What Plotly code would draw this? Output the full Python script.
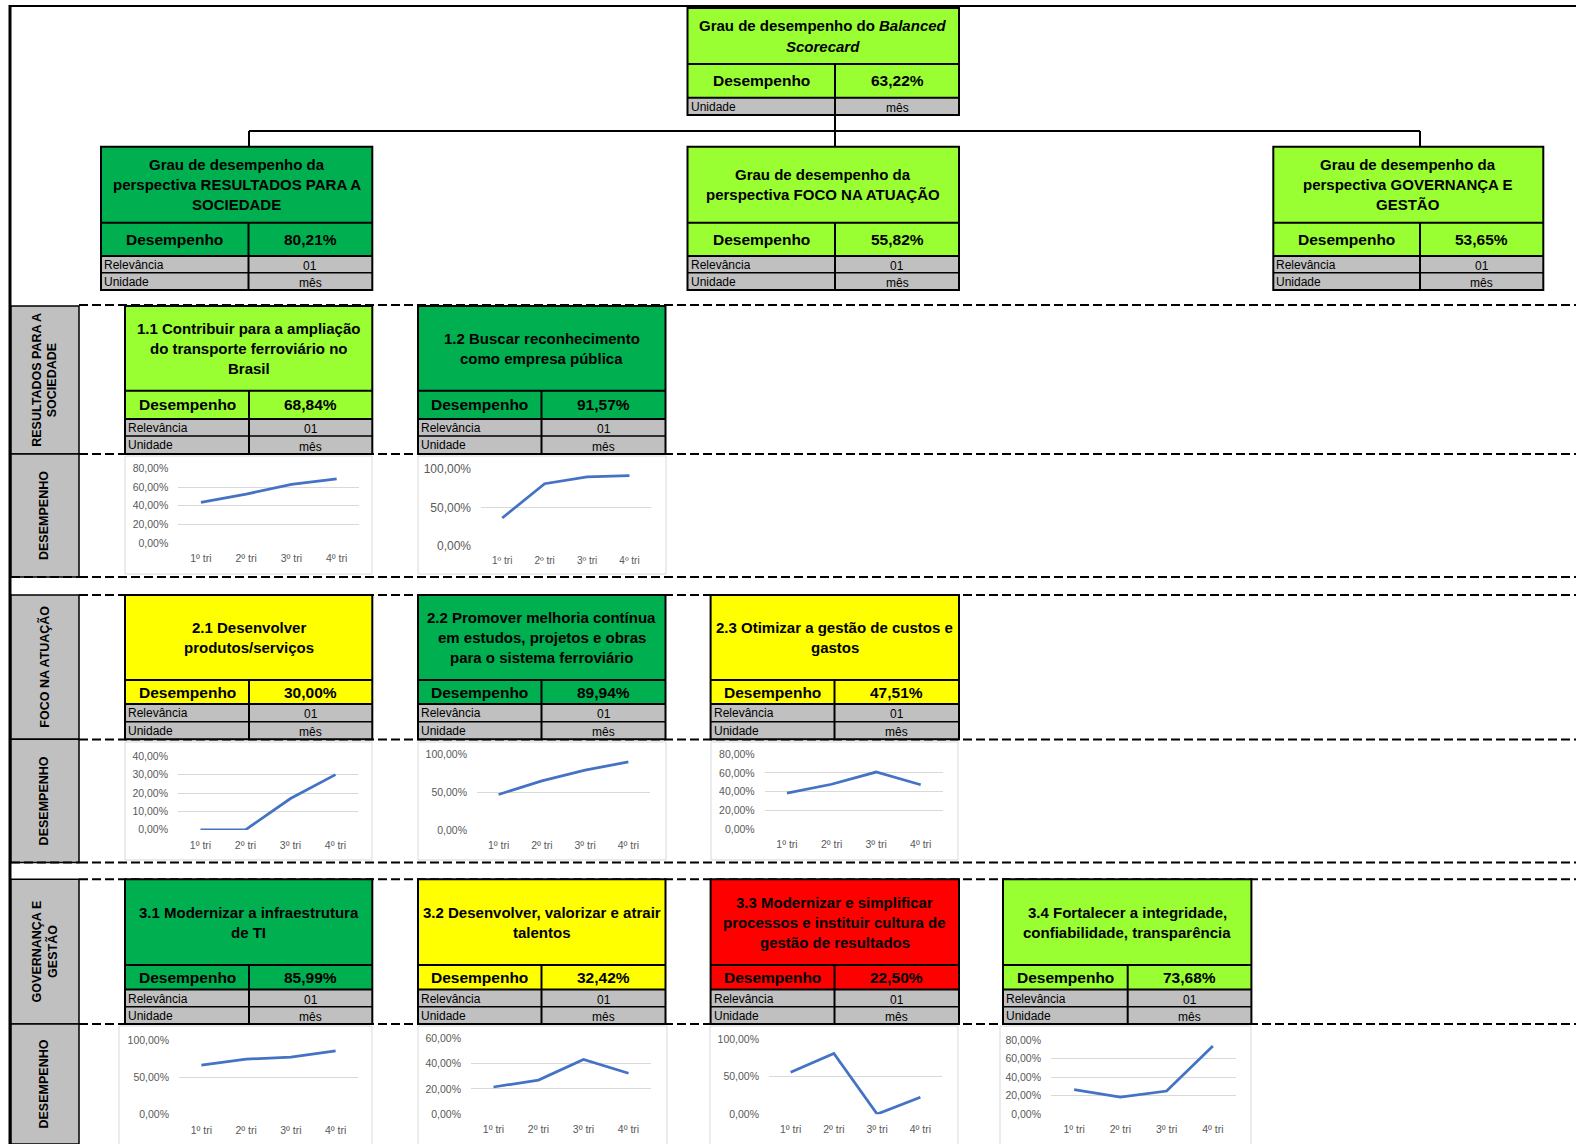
import plotly.graph_objects as go

W, H = 1576, 1144

# ---------------- data ----------------
quarters = ["1º tri", "2º tri", "3º tri", "4º tri"]

bsc_title = ["Grau de desempenho do <i>Balanced</i>", "<i>Scorecard</i>"]
bsc_value = "63,22%"

persp_titles = [
    ["Grau de desempenho da", "perspectiva RESULTADOS PARA A", "SOCIEDADE"],
    ["Grau de desempenho da", "perspectiva FOCO NA ATUAÇÃO"],
    ["Grau de desempenho da", "perspectiva GOVERNANÇA E", "GESTÃO"],
]
persp_values = ["80,21%", "55,82%", "53,65%"]

relevance_label = "Relevância"
unit_label = "Unidade"
relevance_value = "01"
unit_value = "mês"
perf_label = "Desempenho"

row_labels = [["RESULTADOS PARA A", "SOCIEDADE"], ["FOCO NA ATUAÇÃO"], ["GOVERNANÇA E", "GESTÃO"]]
chart_row_label = "DESEMPENHO"

obj_titles = [
    ["1.1 Contribuir para a ampliação", "do transporte ferroviário no", "Brasil"],
    ["1.2 Buscar reconhecimento", "como empresa pública"],
    ["2.1 Desenvolver", "produtos/serviços"],
    ["2.2 Promover melhoria contínua", "em estudos, projetos e obras", "para o sistema ferroviário"],
    ["2.3 Otimizar a gestão de custos e", "gastos"],
    ["3.1 Modernizar a infraestrutura", "de TI"],
    ["3.2 Desenvolver, valorizar e atrair", "talentos"],
    ["3.3 Modernizar e simplificar", "processos e instituir cultura de", "gestão de resultados"],
    ["3.4 Fortalecer a integridade,", "confiabilidade, transparência"],
]
obj_values = ["68,84%", "91,57%", "30,00%", "89,94%", "47,51%", "85,99%", "32,42%", "22,50%", "73,68%"]

s11 = [43.7, 52.5, 63.0, 68.84]
s12 = [36.0, 81.0, 90.0, 91.57]
s21 = [0.0, 0.0, 17.0, 30.0]
s22 = [47.0, 65.0, 79.0, 89.94]
s23 = [38.5, 48.0, 61.0, 47.51]
s31 = [67.0, 75.0, 77.5, 85.99]
s32 = [21.5, 27.0, 43.4, 32.42]
s33 = [56.0, 81.0, 0.0, 22.50]
s34 = [26.5, 18.3, 25.0, 73.68]
series = [s11, s12, s21, s22, s23, s31, s32, s33, s34]

ticks_80 = [0, 20, 40, 60, 80]
ticks_100 = [0, 50, 100]
ticks_40 = [0, 10, 20, 30, 40]
ticks_60 = [0, 20, 40, 60]
chart_ticks = [ticks_80, ticks_100, ticks_40, ticks_100, ticks_80, ticks_100, ticks_60, ticks_100, ticks_80]

# ---------------- styles / layout ----------------
DARK = "#00B050"
LIME = "#99FF33"
YEL = "#FFFF00"
RED = "#FF0000"
GRAY = "#C0C0C0"
FONT = "Liberation Sans, Arial, sans-serif"

shapes = []
annots = []


def fx(x):
    return x / W


def fy(y):
    return 1 - y / H


def rect(x0, y0, x1, y1, fill="rgba(0,0,0,0)", lc="black", lw=2, layer="above"):
    shapes.append(dict(type="rect", xref="paper", yref="paper",
                       x0=fx(x0), x1=fx(x1), y0=fy(y1), y1=fy(y0),
                       fillcolor=fill, line=dict(color=lc, width=lw), layer=layer))


def line(x0, y0, x1, y1, lw=2, dash="solid", color="black"):
    shapes.append(dict(type="line", xref="paper", yref="paper",
                       x0=fx(x0), x1=fx(x1), y0=fy(y0), y1=fy(y1),
                       line=dict(color=color, width=lw, dash=dash), layer="above"))


def text(x, y, s, size, bold=False, anchor="center", angle=0, color="black"):
    annots.append(dict(xref="paper", yref="paper", x=fx(x), y=fy(y),
                       text=("<b>%s</b>" % s) if bold else s, showarrow=False,
                       xanchor=anchor, yanchor="middle", textangle=angle,
                       font=dict(family=FONT, size=size, color=color)))


def kpi_box(x0, xd, x1, ys, fill, title_lines, value, rows, tsize=15, lh=20):
    # ys: top, title bottom, perf bottom, then bottoms of small rows
    rect(x0, ys[0], x1, ys[2], fill=fill, lw=0)
    rect(x0, ys[2], x1, ys[-1], fill=GRAY, lw=0)
    line(x0, ys[1], x1, ys[1], lw=2)
    line(x0, ys[2], x1, ys[2], lw=2)
    for yy in ys[3:-1]:
        line(x0, yy, x1, yy, lw=1.5)
    line(xd, ys[1], xd, ys[-1], lw=2)
    rect(x0, ys[0], x1, ys[-1], lw=2)
    cy = (ys[0] + ys[1]) / 2
    n = len(title_lines)
    for i, t in enumerate(title_lines):
        text((x0 + x1) / 2, cy + (i - (n - 1) / 2) * lh, t, tsize, bold=True)
    py = (ys[1] + ys[2]) / 2
    text((x0 + xd) / 2, py, perf_label, 15.5, bold=True)
    text((xd + x1) / 2, py, value, 15.5, bold=True)
    for j, (lab, val) in enumerate(rows):
        ry = (ys[3 + j - 1] + ys[3 + j]) / 2 + 0.5
        text(x0 + 1, ry, lab, 12, anchor="left")
        text((xd + x1) / 2, ry + 1, val, 12)


# outer borders
line(10, 6, W, 6, lw=2)
line(10, 5, 10, H, lw=3)

# connectors
line(835, 115, 835, 147, lw=2)
line(249, 131, 1420, 131, lw=2)
line(249, 131, 249, 147, lw=2)
line(1420, 131, 1420, 147, lw=2)

# row geometry
row_y = [
    [306, 390.7, 419, 436, 454],
    [595, 680, 704, 721.7, 739.3],
    [879.3, 965, 989.5, 1006.7, 1024],
]
chart_row_y = [(456, 574), (742, 860), (1026, 1150)]
row_bottom = [577, 862.5, H]

# gray side labels
for r in range(3):
    top, bot = row_y[r][0], row_y[r][-1]
    rect(11, top, 79, bot, fill=GRAY, lw=1.5)
    rect(11, bot, 79, row_bottom[r], fill=GRAY, lw=1.5)
    labs = row_labels[r]
    n = len(labs)
    for i, t in enumerate(labs):
        text(44.5 + (i - (n - 1) / 2) * 15.5, (top + bot) / 2, t, 12.5, bold=True, angle=-90)
    text(43.5, (bot + min(row_bottom[r], H)) / 2, chart_row_label, 12.5, bold=True, angle=-90)

# dashed separators
dash = "9px,4px"
for yy in [305, 454, 577, 595, 739.5, 862.5, 879.3, 1024]:
    line(79, yy, W, yy, lw=2, dash=dash)
    if yy in (577, 862.5):
        line(11, yy, 79, yy, lw=2, dash=dash)

# top box
kpi_box(687.5, 835, 959, [8, 64, 97.7, 115], LIME, bsc_title, bsc_value,
        [(unit_label, unit_value)])

# perspective boxes
persp_x = [(101, 248.5, 372.3), (687.5, 835, 959), (1273.3, 1420, 1543.3)]
persp_fill = [DARK, LIME, LIME]
for k in range(3):
    x0, xd, x1 = persp_x[k]
    kpi_box(x0, xd, x1, [146.7, 222.7, 256, 272.7, 290], persp_fill[k], persp_titles[k],
            persp_values[k], [(relevance_label, relevance_value), (unit_label, unit_value)])

# objective boxes
cols_x = [(125, 249, 372.3), (418, 541.5, 665.5), (710.6, 834.5, 959), (1003, 1127.7, 1251.4)]
obj_pos = [(0, 0), (0, 1), (1, 0), (1, 1), (1, 2), (2, 0), (2, 1), (2, 2), (2, 3)]
obj_fill = [LIME, DARK, YEL, DARK, YEL, DARK, YEL, RED, LIME]
for i, (r, c) in enumerate(obj_pos):
    x0, xd, x1 = cols_x[c]
    kpi_box(x0, xd, x1, row_y[r], obj_fill[i], obj_titles[i], obj_values[i],
            [(relevance_label, relevance_value), (unit_label, unit_value)])

# chart frames (x0, x1) per chart, plot areas (px0, px1, ytop, yzero)
chart_frames = [(125, 372), (418, 666), (125, 372), (418, 666), (711, 958),
                (119, 372), (418, 667), (710, 958), (1000, 1251)]
plot_areas = [
    (178.3, 359.3, 468.3, 543.3),
    (481, 650.7, 469, 545.7),
    (178, 358, 756, 830),
    (477, 650, 754, 830.5),
    (764.7, 943, 754, 829.5),
    (179, 358, 1040.3, 1115),
    (471, 651, 1038.3, 1114.3),
    (769, 942, 1039, 1114.3),
    (1051, 1236, 1040, 1114.3),
]

fig = go.Figure()
layout_axes = {}
for i, (r, c) in enumerate(obj_pos):
    fx0, fx1 = chart_frames[i]
    cy0, cy1 = chart_row_y[r]
    rect(fx0, cy0, fx1, cy1, fill="white", lc="#D9D9D9", lw=1, layer="below")
    k = i + 1
    sfx = "" if k == 1 else str(k)
    fig.add_trace(go.Scatter(x=quarters, y=series[i], mode="lines",
                             line=dict(color="#4472C4", width=2.75),
                             xaxis="x" + sfx, yaxis="y" + sfx,
                             hoverinfo="skip", showlegend=False))
    px0, px1, yt, yz = plot_areas[i]
    tv = chart_ticks[i]
    m = tv[-1]
    big = (i == 1)
    layout_axes["xaxis" + sfx] = dict(
        domain=[fx(px0), fx(px1)], anchor="y" + sfx, type="category",
        range=[-0.5, 3.5], showgrid=False, zeroline=False, showline=False,
        ticks="", ticklabelstandoff=7, fixedrange=True, automargin=False,
        tickfont=dict(family=FONT, size=10 if big else 10.5, color="#595959"))
    layout_axes["yaxis" + sfx] = dict(
        domain=[fy(yz), fy(yt)], anchor="x" + sfx, automargin=False,
        range=[-m * 0.003, m * 1.003], showgrid=True, gridcolor="#D9D9D9", gridwidth=1,
        zeroline=False, showline=False, ticks="", ticklabelstandoff=9,
        tickvals=tv, ticktext=[("%.2f" % v).replace(".", ",") + "%" for v in tv],
        fixedrange=True,
        tickfont=dict(family=FONT, size=12 if big else 10.5, color="#595959"))

fig.update_layout(
    template="none",
    width=W, height=H, margin=dict(l=0, r=0, t=0, b=0, pad=0, autoexpand=False),
    paper_bgcolor="white", plot_bgcolor="rgba(0,0,0,0)",
    shapes=shapes, annotations=annots, showlegend=False,
    **layout_axes,
)

fig.write_html("out.html", config={"displayModeBar": False},
               post_script="document.body.style.margin='0px';document.body.style.overflow='hidden';")
